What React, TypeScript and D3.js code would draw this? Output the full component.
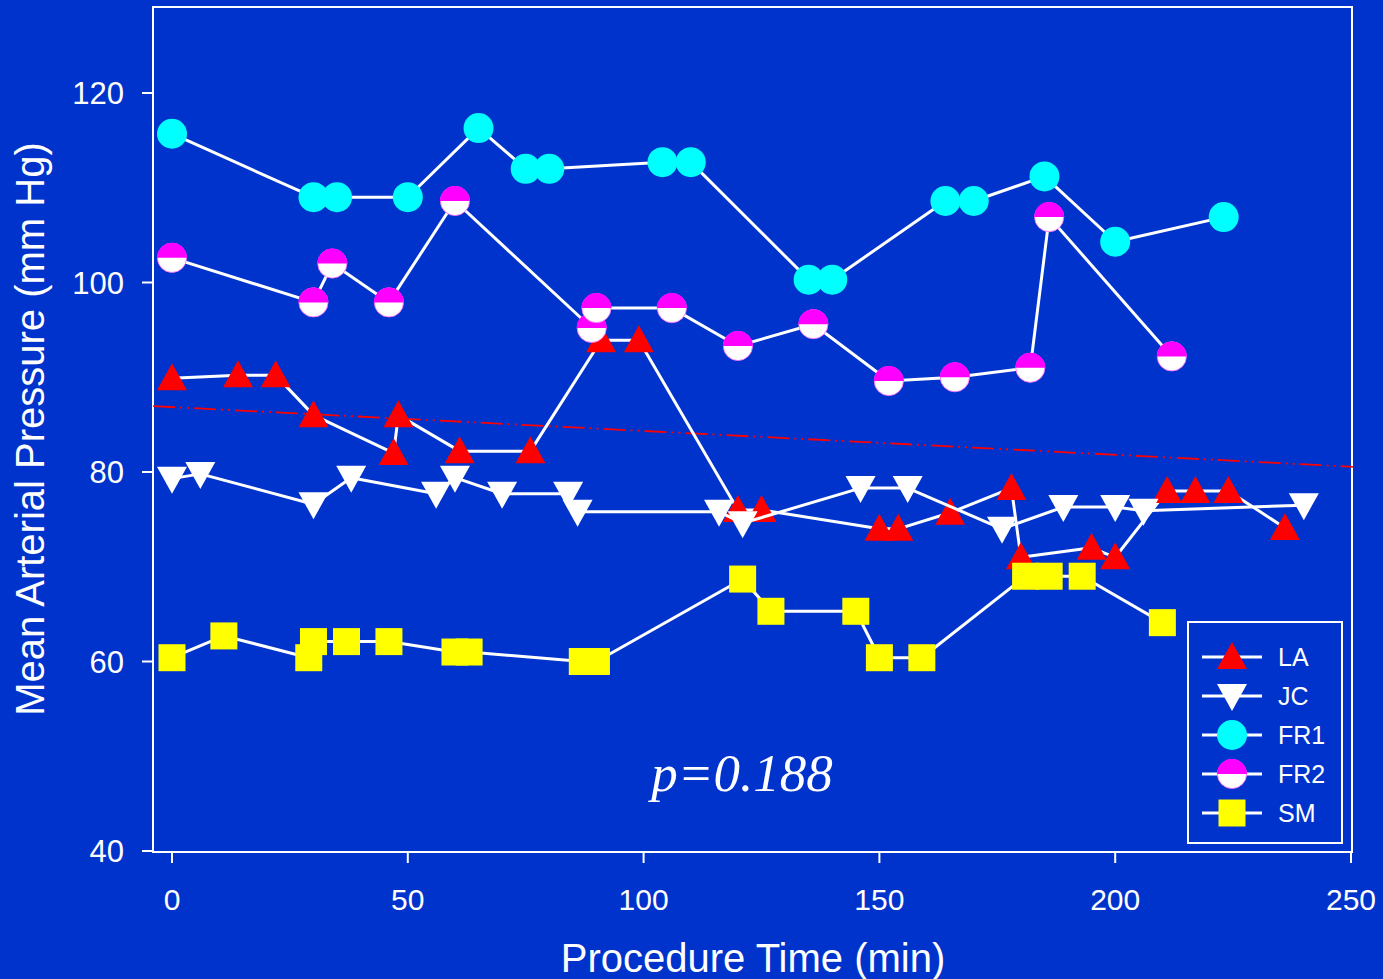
import * as d3 from 'd3';

// Procedure time (min) and mean arterial pressure (mm Hg) for each patient
const laTime = [0, 14, 22, 30, 47, 48, 61, 76, 91, 99, 120, 125, 150, 154, 165, 178, 180, 195, 200, 211, 217, 224, 236];
const laMap = [89.9, 90.2, 90.2, 86.0, 82.0, 86.0, 82.2, 82.2, 93.9, 93.9, 76.0, 76.0, 74.0, 74.0, 75.7, 78.3, 71.0, 72.0, 71.0, 78.0, 78.0, 78.0, 74.1];

const jcTime = [0, 6, 30, 38, 56, 60, 70, 84, 86, 116, 121, 146, 156, 176, 189, 200, 206, 240];
const jcMap = [79.3, 79.8, 76.6, 79.4, 77.7, 79.4, 77.7, 77.7, 75.8, 75.8, 74.6, 78.3, 78.3, 74.0, 76.3, 76.3, 75.9, 76.5];

const fr1Time = [0, 30, 35, 50, 65, 75, 80, 104, 110, 135, 140, 164, 170, 185, 200, 223];
const fr1Map = [115.7, 109.0, 109.0, 109.0, 116.3, 112.0, 112.0, 112.7, 112.7, 100.3, 100.3, 108.6, 108.6, 111.2, 104.3, 106.9];

const fr2Time = [0, 30, 34, 46, 60, 89, 90, 106, 120, 136, 152, 166, 182, 186, 212];
const fr2Map = [102.6, 97.9, 102.0, 97.9, 108.6, 95.2, 97.3, 97.3, 93.3, 95.6, 89.6, 90.0, 91.0, 106.9, 92.2];

const smTime = [0, 11, 29, 30, 37, 46, 60, 63, 87, 90, 121, 127, 145, 150, 159, 181, 186, 193, 210];
const smMap = [60.4, 62.7, 60.4, 62.1, 62.1, 62.1, 61.0, 61.0, 60.0, 60.0, 68.7, 65.3, 65.3, 60.4, 60.4, 69.0, 69.0, 69.0, 64.1];

// pooled regression line (end points)
const trendTime = [-4, 250.4];
const trendMap = [86.95, 80.55];

const xTicks = [0, 50, 100, 150, 200, 250];
const yTicks = [40, 60, 80, 100, 120];
const pValue = 'p=0.188';

type Kind = 'up' | 'down' | 'circle' | 'half' | 'square';

const series: { name: string; kind: Kind; time: number[]; map: number[] }[] = [
  { name: 'LA', kind: 'up', time: laTime, map: laMap },
  { name: 'JC', kind: 'down', time: jcTime, map: jcMap },
  { name: 'FR1', kind: 'circle', time: fr1Time, map: fr1Map },
  { name: 'FR2', kind: 'half', time: fr2Time, map: fr2Map },
  { name: 'SM', kind: 'square', time: smTime, map: smMap },
];

const bg = '#0033cc';
const font = '"Liberation Sans", Arial, sans-serif';

function Marker({ kind, cx, cy }: { kind: Kind; cx: number; cy: number }) {
  if (kind === 'up') {
    return <path d={`M${cx},${cy - 15}L${cx + 15},${cy + 12}L${cx - 15},${cy + 12}Z`} fill="#ff0000" />;
  }
  if (kind === 'down') {
    return <path d={`M${cx - 15},${cy - 12}L${cx + 15},${cy - 12}L${cx},${cy + 15}Z`} fill="#ffffff" />;
  }
  if (kind === 'circle') {
    return <circle cx={cx} cy={cy} r={15} fill="#00ffff" />;
  }
  if (kind === 'half') {
    return (
      <g>
        <circle cx={cx} cy={cy} r={14.6} fill="#ffffff" stroke="#ff66ff" strokeWidth={0.8} />
        <path d={`M${cx - 15},${cy}A15,15 0 0 1 ${cx + 15},${cy}Z`} fill="#ff00ff" />
      </g>
    );
  }
  return <rect x={cx - 13.5} y={cy - 13.5} width={27} height={27} fill="#ffff00" />;
}

export default function App() {
  const width = 1383;
  const height = 979;
  const frame = { left: 153, right: 1352, top: 7, bottom: 852 };

  const x = d3.scaleLinear().domain([0, 250]).range([172, 1351]);
  const y = d3.scaleLinear().domain([40, 120]).range([851, 93]);

  const line = d3
    .line<[number, number]>()
    .x((d) => x(d[0]))
    .y((d) => y(d[1]));

  const trend = line(trendTime.map((t, i) => [t, trendMap[i]]));

  // legend layout
  const legend = { left: 1188, top: 622, right: 1342, bottom: 843 };
  const legendRow = d3.scaleLinear().domain([0, 4]).range([657, 813]);

  return (
    <div style={{ position: 'absolute', left: 0, top: 0 }}>
      <svg width={width} height={height} style={{ display: 'block' }}>
        <rect x={0} y={0} width={width} height={height} fill={bg} />

        {/* plot frame */}
        <rect
          x={frame.left}
          y={frame.top}
          width={frame.right - frame.left}
          height={frame.bottom - frame.top}
          fill="none"
          stroke="#ffffff"
          strokeWidth={2}
        />

        {/* y axis ticks and labels */}
        {yTicks.map((v) => (
          <g key={'y' + v}>
            <line x1={142} x2={frame.left} y1={y(v)} y2={y(v)} stroke="#ffffff" strokeWidth={2} />
            <text
              x={124}
              y={y(v) + 11}
              textAnchor="end"
              fill="#ffffff"
              fontFamily={font}
              fontSize={31}
            >
              {v}
            </text>
          </g>
        ))}

        {/* x axis ticks and labels */}
        {xTicks.map((v) => (
          <g key={'x' + v}>
            <line x1={x(v)} x2={x(v)} y1={frame.bottom} y2={frame.bottom + 11} stroke="#ffffff" strokeWidth={2} />
            <text
              x={x(v)}
              y={910}
              textAnchor="middle"
              fill="#ffffff"
              fontFamily={font}
              fontSize={30}
            >
              {v}
            </text>
          </g>
        ))}

        {/* axis titles */}
        <text x={753} y={972} textAnchor="middle" fill="#ffffff" fontFamily={font} fontSize={40}>
          Procedure Time (min)
        </text>
        <text
          transform="translate(44,429) rotate(-90)"
          textAnchor="middle"
          fill="#ffffff"
          fontFamily={font}
          fontSize={40}
        >
          Mean Arterial Pressure (mm Hg)
        </text>

        {/* regression line */}
        <path d={trend ?? ''} fill="none" stroke="#ff0000" strokeWidth={1.8} strokeDasharray="22 5 2 5 2 5" />

        {/* series */}
        {series.map((s) => (
          <g key={s.name}>
            <path
              d={line(s.time.map((t, i) => [t, s.map[i]])) ?? ''}
              fill="none"
              stroke="#ffffff"
              strokeWidth={3}
              strokeLinejoin="round"
            />
            {s.time.map((t, i) => (
              <Marker key={i} kind={s.kind} cx={x(t)} cy={y(s.map[i])} />
            ))}
          </g>
        ))}

        {/* p value */}
        <text
          x={742}
          y={791}
          textAnchor="middle"
          fill="#ffffff"
          fontFamily='"Liberation Serif", "Times New Roman", serif'
          fontStyle="italic"
          fontSize={53}
        >
          {pValue}
        </text>

        {/* legend */}
        <rect
          x={legend.left}
          y={legend.top}
          width={legend.right - legend.left}
          height={legend.bottom - legend.top}
          fill={bg}
          stroke="#ffffff"
          strokeWidth={2}
        />
        {series.map((s, i) => (
          <g key={'leg' + s.name}>
            <line x1={1202} x2={1262} y1={legendRow(i)} y2={legendRow(i)} stroke="#ffffff" strokeWidth={3} />
            <Marker kind={s.kind} cx={1232} cy={legendRow(i)} />
            <text
              x={1278}
              y={legendRow(i) + 9}
              fill="#ffffff"
              fontFamily={font}
              fontSize={25}
            >
              {s.name}
            </text>
          </g>
        ))}
      </svg>
    </div>
  );
}
